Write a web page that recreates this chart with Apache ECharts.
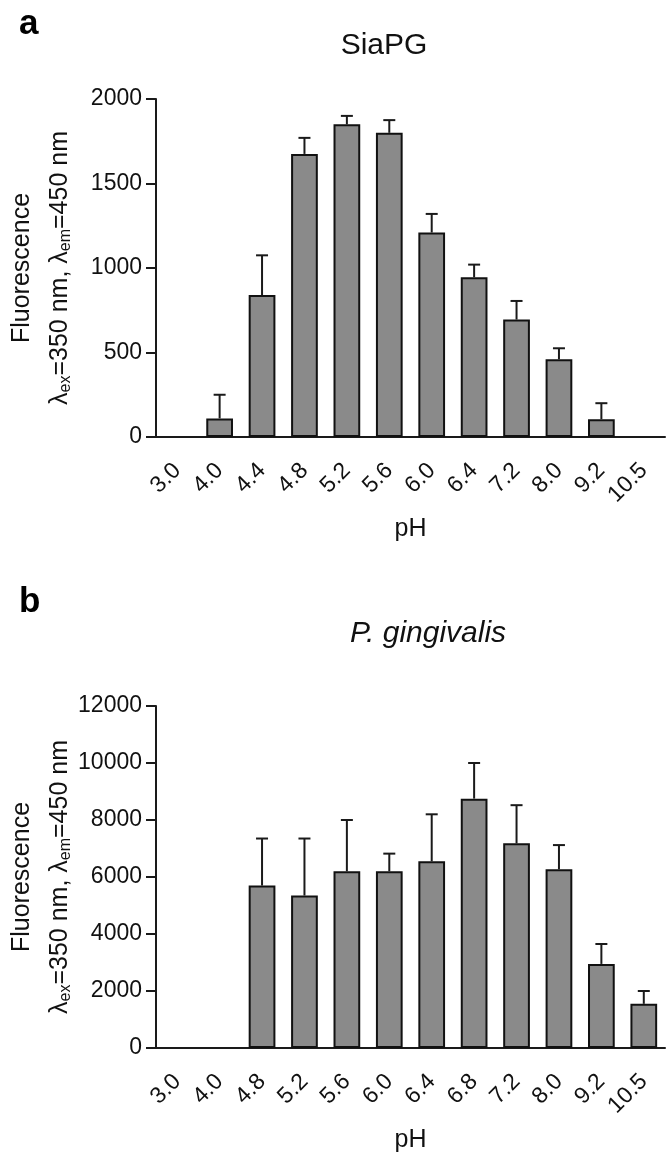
<!DOCTYPE html>
<html><head><meta charset="utf-8">
<script src="https://cdn.jsdelivr.net/npm/echarts@6/dist/echarts.min.js"></script>
<style>html,body{margin:0;padding:0;background:#fff}#c{width:669px;height:1165px}</style>
</head><body><div id="c"></div>
<script>
const catsA = ['3.0','4.0','4.4','4.8','5.2','5.6','6.0','6.4','7.2','8.0','9.2','10.5'];
const meanA = [0, 110, 840, 1675, 1850, 1800, 1210, 945, 695, 460, 105, 0];
const errA  = [0, 140, 235, 95, 50, 75, 110, 75, 110, 65, 95, 0];
const catsB = ['3.0','4.0','4.8','5.2','5.6','6.0','6.4','6.8','7.2','8.0','9.2','10.5'];
const meanB = [0, 0, 5700, 5350, 6200, 6200, 6550, 8750, 7180, 6270, 2950, 1550];
const errB  = [0, 0, 1650, 2000, 1800, 620, 1650, 1250, 1340, 850, 700, 450];
const yTicksA = {min:0, max:2000, interval:500};
const yTicksB = {min:0, max:12000, interval:2000};

const FONT = 'Liberation Sans, Arial, sans-serif';
const AX = '#1a1a1a';
const yName = '{a|Fluorescence}\n{b|λ}{s|ex}{b|=350 nm, λ}{s|em}{b|=450 nm}';
const yNameRich = {
  a:{fontSize:25, fontFamily:FONT, color:'#111', lineHeight:38},
  b:{fontSize:25, fontFamily:FONT, color:'#111', lineHeight:38, verticalAlign:'middle'},
  s:{fontSize:16, fontFamily:FONT, color:'#111', lineHeight:16, verticalAlign:'bottom', padding:[0,0,5,0]}
};

function xAxis(gi, cats){
  return {type:'category', gridIndex:gi, data:cats,
    axisLine:{lineStyle:{color:AX, width:2}},
    axisTick:{alignWithLabel:true, interval:0, length:10, lineStyle:{color:AX, width:2}},
    axisLabel:{rotate:45, interval:0, fontSize:23, fontFamily:FONT, color:'#111', margin:30},
    name:'pH', nameLocation:'middle', nameGap:80, nameMoveOverlap:false,
    nameTextStyle:{fontSize:25, fontFamily:FONT, color:'#111'}};
}
function yAxis(gi, t){
  return {type:'value', gridIndex:gi, min:t.min, max:t.max, interval:t.interval,
    splitLine:{show:false},
    axisLine:{show:true, lineStyle:{color:AX, width:2}},
    axisTick:{show:true, length:10, lineStyle:{color:AX, width:2}},
    axisLabel:{fontSize:23, fontFamily:FONT, color:'#111', margin:14, formatter:v => String(v)},
    name:yName, nameLocation:'middle', nameGap:77, nameRotate:90, nameMoveOverlap:false,
    nameTextStyle:{rich:yNameRich, align:'center'}};
}
function barData(m){ return m.map(v => v === 0 ? '-' : v); }
function errData(m, e){ return m.map((v,i)=>[i, v, e[i]]).filter(d => d[1] > 0 && d[2] > 0); }
function errSeries(xi, yi, m, e){
  return {type:'custom', xAxisIndex:xi, yAxisIndex:yi, data:errData(m,e), z:1,
    renderItem:function(params, api){
      const i = api.value(0), v = api.value(1), er = api.value(2);
      const p0 = api.coord([i, v]);
      const p1 = api.coord([i, v + er]);
      const hw = 6;
      return {type:'group', children:[
        {type:'line', shape:{x1:p0[0], y1:p0[1], x2:p1[0], y2:p1[1]}, style:{stroke:'#1a1a1a', lineWidth:2}},
        {type:'line', shape:{x1:p1[0]-hw, y1:p1[1], x2:p1[0]+hw, y2:p1[1]}, style:{stroke:'#1a1a1a', lineWidth:2}}
      ]};
    }};
}
const barStyle = {color:'#8a8a8a', borderColor:'#111', borderWidth:2};

const chart = echarts.init(document.getElementById('c'), null, {renderer:'canvas'});
chart.setOption({
  animation:false,
  backgroundColor:'#fff',
  title:[
    {text:'a', left:14, top:2, textStyle:{fontSize:35, fontWeight:'bold', fontFamily:FONT, color:'#000'}},
    {text:'SiaPG', left:379, top:26, textAlign:'center', textStyle:{fontSize:30, fontWeight:'normal', fontFamily:FONT, color:'#111'}},
    {text:'b', left:14, top:580, textStyle:{fontSize:35, fontWeight:'bold', fontFamily:FONT, color:'#000'}},
    {text:'P. gingivalis', left:423, top:614, textAlign:'center', textStyle:{fontSize:30, fontStyle:'italic', fontWeight:'normal', fontFamily:FONT, color:'#111'}}
  ],
  grid:[
    {left:156, width:509, top:99, height:338, containLabel:false, outerBoundsMode:'none'},
    {left:156, width:509, top:706, height:342, containLabel:false, outerBoundsMode:'none'}
  ],
  xAxis:[xAxis(0, catsA), xAxis(1, catsB)],
  yAxis:[yAxis(0, yTicksA), yAxis(1, yTicksB)],
  series:[
    {type:'bar', xAxisIndex:0, yAxisIndex:0, data:barData(meanA), barWidth:'63%', itemStyle:barStyle, z:2},
    errSeries(0,0,meanA,errA),
    {type:'bar', xAxisIndex:1, yAxisIndex:1, data:barData(meanB), barWidth:'63%', itemStyle:barStyle, z:2},
    errSeries(1,1,meanB,errB)
  ]
});
</script></body></html>
